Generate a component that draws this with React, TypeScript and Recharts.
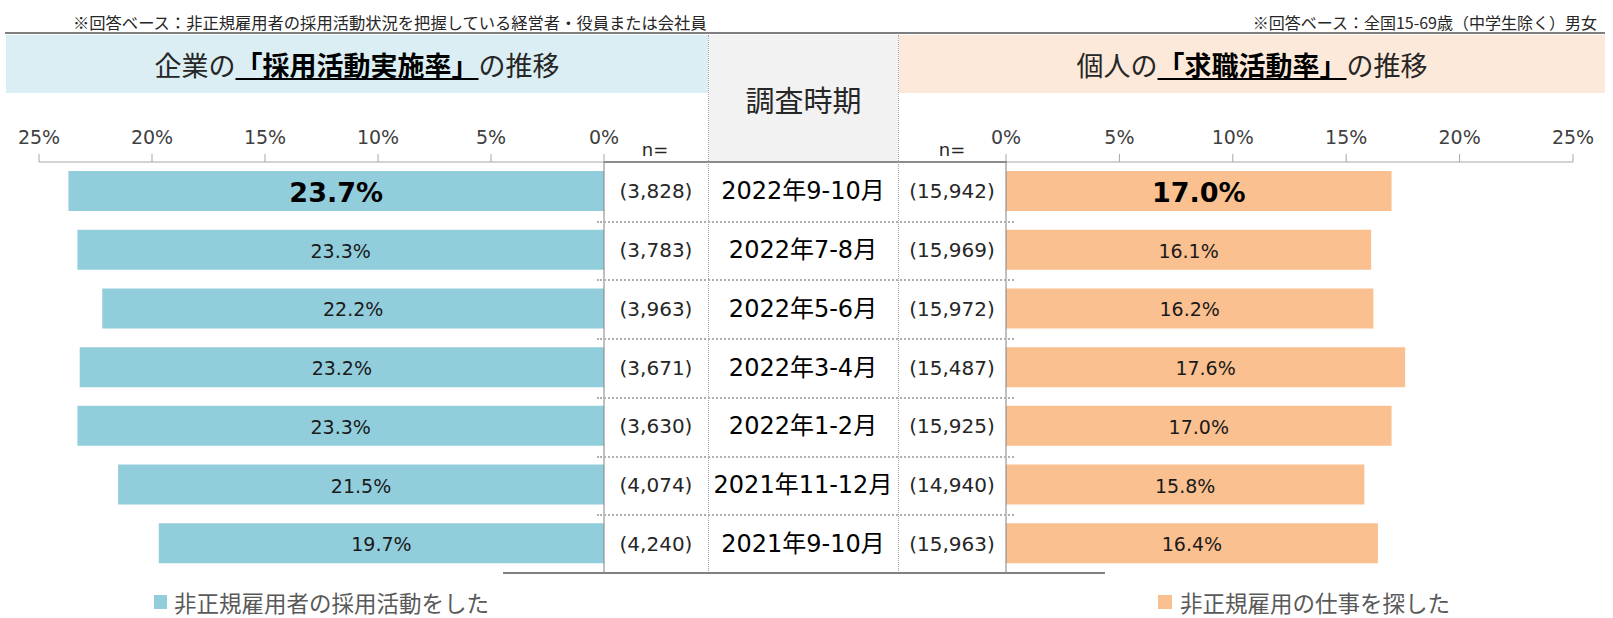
import React from 'react'
import { BarChart, Bar, XAxis, YAxis, LabelList } from 'recharts'

const periods = ['2022年9-10月', '2022年7-8月', '2022年5-6月', '2022年3-4月', '2022年1-2月', '2021年11-12月', '2021年9-10月']
const companyRates = [23.7, 23.3, 22.2, 23.2, 23.3, 21.5, 19.7]
const personRates = [17.0, 16.1, 16.2, 17.6, 17.0, 15.8, 16.4]
const companyN = [3828, 3783, 3963, 3671, 3630, 4074, 4240]
const personN = [15942, 15969, 15972, 15487, 15925, 14940, 15963]
const rateTicks = [0, 5, 10, 15, 20, 25]

const BLUE = '#92CDDC'
const ORANGE = '#FAC090'
const FONT = '"DejaVu Sans", "Noto Sans CJK JP", sans-serif'
const JP = '"Noto Sans CJK JP", sans-serif'

// 行の高さ（プロット領域 411px を 7 行で割る）
const PLOT_TOP = 162
const PLOT_H = 411
const BAND = PLOT_H / periods.length

const rows = periods.map((p, i) => ({
  period: p,
  company: companyRates[i],
  person: personRates[i],
}))

const fmtN = (n: number) => `(${n.toLocaleString('en-US')})`

const RateLabel = (props: any) => {
  const { x, y, width, height, value, index } = props
  const top = index === 0
  return (
    <text
      x={x + width / 2}
      y={y + height / 2 + 1}
      textAnchor="middle"
      dominantBaseline="central"
      fontFamily="DejaVu Sans"
      fontSize={top ? 27 : 19}
      fontWeight={top ? 700 : 400}
      fill={top ? '#000' : '#1a1a1a'}
    >
      {`${Number(value).toFixed(1)}%`}
    </text>
  )
}

const LeftTick = (props: any) => {
  const { x, y, payload } = props
  const i = payload.index
  return (
    <g>
      <text x={x + 52} y={y} textAnchor="middle" dominantBaseline="central" fontSize={20} fill="#262626">
        {fmtN(companyN[i])}
      </text>
      <text x={x + 199} y={y} textAnchor="middle" dominantBaseline="central" fontSize={24} fill="#000">
        {payload.value}
      </text>
    </g>
  )
}

const RightTick = (props: any) => {
  const { x, y, payload } = props
  return (
    <text x={x - 54} y={y} textAnchor="middle" dominantBaseline="central" fontSize={20} fill="#262626">
      {fmtN(personN[payload.index])}
    </text>
  )
}

const axisTick = { fontSize: 19, fill: '#404040' }

const abs = (s: React.CSSProperties): React.CSSProperties => ({ position: 'absolute', ...s })

export default function App() {
  return (
    <div style={{ position: 'relative', width: 1613, height: 618, background: '#fff', fontFamily: FONT, overflow: 'hidden' }}>
      <style>{'body{margin:0}'}</style>

      {/* 注記 */}
      <div style={abs({ left: 73, top: 11, fontFamily: JP, fontSize: 16.3, color: '#262626', whiteSpace: 'nowrap', lineHeight: '22px' })}>
        ※回答ベース：非正規雇用者の採用活動状況を把握している経営者・役員または会社員
      </div>
      <div style={abs({ right: 16, top: 11, fontFamily: JP, fontSize: 16, color: '#262626', whiteSpace: 'nowrap', lineHeight: '22px' })}>
        ※回答ベース：全国15-69歳（中学生除く）男女
      </div>
      <div style={abs({ left: 5, top: 32, width: 1600, height: 2, background: '#7f7f7f' })} />

      {/* 見出し */}
      <div style={abs({ left: 6, top: 35, width: 702, height: 58, background: '#DAEEF3', display: 'flex', alignItems: 'center', justifyContent: 'center', fontFamily: JP, fontSize: 27, color: '#262626' })}>
        企業の<span style={{ fontWeight: 700, textDecoration: 'underline', color: '#000' }}>「採用活動実施率」</span>の推移
      </div>
      <div style={abs({ left: 709, top: 35, width: 189, height: 127, background: '#F2F2F2', display: 'flex', alignItems: 'center', justifyContent: 'center', fontFamily: JP, fontSize: 29, color: '#262626' })}>
        調査時期
      </div>
      <div style={abs({ left: 899, top: 35, width: 706, height: 58, background: '#FDE9D9', display: 'flex', alignItems: 'center', justifyContent: 'center', fontFamily: JP, fontSize: 27, color: '#262626' })}>
        個人の<span style={{ fontWeight: 700, textDecoration: 'underline', color: '#000' }}>「求職活動率」</span>の推移
      </div>

      <div style={abs({ left: 655, top: 139, transform: 'translateX(-50%)', fontSize: 18, color: '#262626', lineHeight: '22px' })}>n=</div>
      <div style={abs({ left: 952, top: 139, transform: 'translateX(-50%)', fontSize: 18, color: '#262626', lineHeight: '22px' })}>n=</div>

      {/* 左：企業 */}
      <div style={abs({ left: 0, top: 100 })}>
        <BarChart width={898} height={PLOT_TOP - 100 + PLOT_H} data={rows} layout="vertical" margin={{ top: 0, right: 0, bottom: 0, left: 39 }}>
          <XAxis
            type="number"
            orientation="top"
            reversed
            domain={[0, 25]}
            ticks={rateTicks}
            interval={0}
            tickFormatter={v => `${v}%`}
            tick={axisTick}
            axisLine={{ stroke: '#A6A6A6' }}
            tickLine={{ stroke: '#A6A6A6' }}
            tickSize={8}
            tickMargin={10}
            height={PLOT_TOP - 100}
          />
          <YAxis
            type="category"
            dataKey="period"
            orientation="right"
            width={294}
            interval={0}
            tickSize={0}
            tickMargin={0}
            tickLine={false}
            axisLine={{ stroke: '#808080' }}
            tick={LeftTick}
          />
          <Bar dataKey="company" fill={BLUE} barSize={40} isAnimationActive={false}>
            <LabelList dataKey="company" content={RateLabel} />
          </Bar>
        </BarChart>
      </div>

      {/* 右：個人 */}
      <div style={abs({ left: 898, top: 100 })}>
        <BarChart width={715} height={PLOT_TOP - 100 + PLOT_H} data={rows} layout="vertical" margin={{ top: 0, right: 40, bottom: 0, left: 0 }}>
          <XAxis
            type="number"
            orientation="top"
            domain={[0, 25]}
            ticks={rateTicks}
            interval={0}
            tickFormatter={v => `${v}%`}
            tick={axisTick}
            axisLine={{ stroke: '#A6A6A6' }}
            tickLine={{ stroke: '#A6A6A6' }}
            tickSize={8}
            tickMargin={10}
            height={PLOT_TOP - 100}
          />
          <YAxis
            type="category"
            dataKey="period"
            orientation="left"
            width={108}
            interval={0}
            tickSize={0}
            tickMargin={0}
            tickLine={false}
            axisLine={{ stroke: '#808080' }}
            tick={RightTick}
          />
          <Bar dataKey="person" fill={ORANGE} barSize={40} isAnimationActive={false}>
            <LabelList dataKey="person" content={RateLabel} />
          </Bar>
        </BarChart>
      </div>

      {/* 表の罫線 */}
      <div style={abs({ left: 604, top: PLOT_TOP - 1, width: 403, height: 2, background: '#8C8C8C' })} />
      <div style={abs({ left: 708, top: 35, height: PLOT_TOP + PLOT_H - 35, borderLeft: '1px dotted #A6A6A6' })} />
      <div style={abs({ left: 898, top: 35, height: PLOT_TOP + PLOT_H - 35, borderLeft: '1px dotted #A6A6A6' })} />
      {periods.slice(1).map((p, i) => (
        <div key={p} style={abs({ left: 597, top: Math.round(PLOT_TOP + BAND * (i + 1)), width: 417, borderTop: '2px dotted #B0B0B0' })} />
      ))}
      <div style={abs({ left: 503, top: PLOT_TOP + PLOT_H - 1, width: 602, height: 2, background: '#808080' })} />

      {/* 凡例 */}
      <div style={abs({ left: 154, top: 590, height: 24, display: 'flex', alignItems: 'center', fontFamily: JP, fontSize: 22.5, color: '#595959', lineHeight: '24px' })}>
        <span style={{ width: 13, height: 14, background: BLUE, marginRight: 7 }} />
        非正規雇用者の採用活動をした
      </div>
      <div style={abs({ left: 1158, top: 590, height: 24, display: 'flex', alignItems: 'center', fontFamily: JP, fontSize: 22.5, color: '#595959', lineHeight: '24px' })}>
        <span style={{ width: 14, height: 14, background: ORANGE, marginRight: 8 }} />
        非正規雇用の仕事を探した
      </div>
    </div>
  )
}
